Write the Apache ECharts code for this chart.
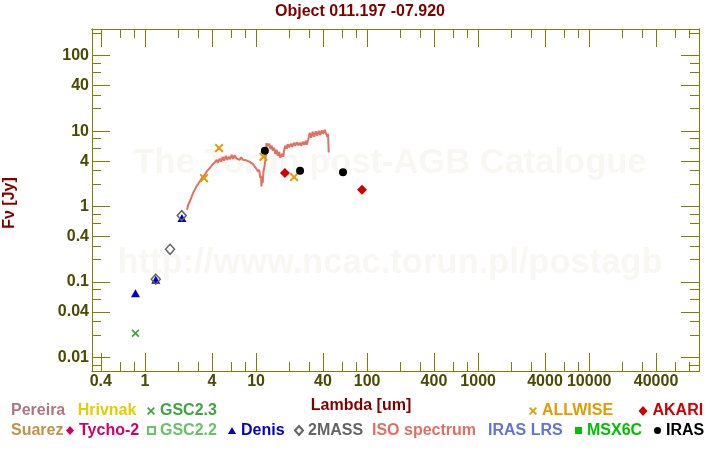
<!DOCTYPE html>
<html>
<head>
<meta charset="utf-8">
<script src="https://cdn.jsdelivr.net/npm/echarts@6/dist/echarts.min.js"></script>
<style>
html,body{margin:0;padding:0;background:#fff;}
#chart{width:720px;height:450px;}
</style>
</head>
<body>
<div id="chart"></div>
<script>
// ---------------- data ----------------
const chartTitle = 'Object 011.197 -07.920';
const xName = 'Lambda [um]';
const yName = 'F\u03bd [Jy]';

const xRange = [0.333, 97500];
const yRange = [0.00662, 226];
const xMajorTicks = [0.4, 1, 4, 10, 40, 100, 400, 1000, 4000, 10000, 40000];
const xMinorTicks = [0.6, 0.8, 2, 3, 6, 8, 20, 30, 60, 80, 200, 300, 600, 800,
  2000, 3000, 6000, 8000, 20000, 30000, 60000, 80000];
const yMajorTicks = [0.01, 0.04, 0.1, 0.4, 1, 4, 10, 40, 100];
const yMinorTicks = [0.008, 0.02, 0.03, 0.06, 0.08, 0.2, 0.3, 0.6, 0.8, 2, 3, 6, 8,
  20, 30, 60, 80, 200];

// photometry [lambda (um), flux (Jy)]
const gsc23 = [[0.82, 0.021]];
const denis = [[0.82, 0.071], [1.25, 0.107], [2.15, 0.705]];
const twoMass = [[1.25, 0.109], [1.68, 0.272], [2.14, 0.76]];
const allwise = [[3.40, 2.38], [4.64, 5.96], [11.65, 4.57], [22.0, 2.46]];
const akari = [[18.2, 2.78], [90, 1.67]];
const iras = [[12.0, 5.49], [24.9, 2.98], [60.7, 2.86]];
const pereira = [], hrivnak = [], suarez = [], tycho2 = [], gsc22 = [], irasLrs = [], msx6c = [];

// ISO spectrum [lambda (um), flux (Jy)]
const isoSpectrum = [
  [2.389,0.906],[2.449,1.055],[2.527,1.167],[2.607,1.306],[2.706,1.508],[2.803,1.668],
  [2.904,1.845],[3.014,2.004],[3.109,2.149],[3.274,2.407],[3.449,2.638],[3.633,2.981],
  [3.825,3.237],[4.030,3.579],[4.244,3.841],[4.424,4.171],[4.516,3.805],[4.708,4.300],
  [4.857,3.923],[5.010,4.571],[5.168,4.046],[5.331,4.713],[5.500,4.171],[5.674,4.571],
  [5.853,4.235],[6.037,4.860],[6.228,4.300],[6.425,4.786],[6.628,4.367],[6.837,4.571],
  [7.127,4.171],[7.352,4.501],[7.584,4.171],[7.905,4.433],[8.155,4.108],[8.412,4.300],
  [8.769,3.923],[9.046,4.108],[9.331,3.691],[9.625,3.805],[9.929,3.267],[10.24,3.472],
  [10.46,2.891],[10.68,3.073],[10.90,2.407],[11.08,2.559],[11.18,1.845],[11.32,2.264],
  [11.48,2.066],[11.65,2.891],[11.84,2.720],[11.97,3.579],[12.14,4.171],[12.29,5.326],
  [12.40,6.948],[12.74,6.397],[13.14,6.800],[13.41,5.836],[13.84,6.397],[14.13,5.490],
  [14.57,6.018],[14.88,5.010],[15.35,5.660],[15.67,4.713],[16.17,5.326],[16.51,4.433],
  [16.92,4.171],[17.20,5.010],[17.56,4.571],[17.93,5.660],[18.31,6.397],[18.89,5.836],
  [19.28,6.697],[19.89,6.111],[20.52,6.800],[21.17,6.205],[21.84,7.012],[22.53,6.397],
  [23.24,7.120],[23.97,6.495],[24.73,7.012],[25.51,6.397],[26.32,7.230],[27.15,6.596],
  [28.01,7.454],[28.59,6.596],[29.49,7.685],[30.43,9.517],[31.39,8.167],[32.38,9.811],
  [33.40,8.421],[34.45,9.962],[35.54,8.682],[36.66,10.12],[37.82,8.817],[39.02,10.27],
  [40.25,9.230],[41.52,10.43],[42.83,10.27],[43.73,8.421],[44.47,9.230],[45.12,5.213]
];

// ---------------- style ----------------
const FONT = '"Liberation Sans", Arial, Helvetica, sans-serif';
const OLIVE = '#808000';
const LABEL = '#4a4a00';
const DARKRED = '#800000';
const CROSS = 'path://M0,1.5L1.5,0L5,3.5L8.5,0L10,1.5L6.5,5L10,8.5L8.5,10L5,6.5L1.5,10L0,8.5L3.5,5Z';

const lg = v => Math.log10(v);
const fmt = v => String(Number(Math.pow(10, v).toPrecision(6)));

function frameAxis(range, position, values, length, withLabels, extra) {
  const ax = {
    type: 'value', position: position,
    min: lg(range[0]), max: lg(range[1]),
    axisLine: {show: true, onZero: false, lineStyle: {color: OLIVE, width: 1}},
    axisTick: {show: true, inside: true, length: length, customValues: values.map(lg),
      lineStyle: {color: OLIVE, width: 1}},
    axisLabel: withLabels ? {show: true, customValues: values.map(lg), formatter: fmt,
      color: LABEL, fontSize: 16, fontWeight: 'bold', fontFamily: FONT, margin: 3} : {show: false},
    splitLine: {show: false}, minorTick: {show: false}, splitArea: {show: false}
  };
  return Object.assign(ax, extra || {});
}

const dataAxisX = {type: 'log', min: xRange[0], max: xRange[1], show: false, splitLine: {show: false}};
const dataAxisY = {type: 'log', min: yRange[0], max: yRange[1], show: false, splitLine: {show: false}};

function leg(name, left, top, color, iw, ih, icon) {
  return {data: [icon ? {name: name, icon: icon} : name], left: left, top: top, padding: 0,
    itemWidth: iw, itemHeight: ih, selectedMode: false,
    textStyle: {color: color, fontSize: 16, fontWeight: 'bold', fontFamily: FONT}};
}

function scat(name, data, symbol, size, color, extraStyle) {
  return {name: name, type: 'scatter', data: data, xAxisIndex: 0, yAxisIndex: 0,
    symbol: symbol, symbolSize: size, animation: false, z: 3,
    itemStyle: Object.assign({color: color, opacity: 1}, extraStyle || {})};
}

const option = {
  animation: false,
  backgroundColor: '#ffffff',
  title: {text: chartTitle, left: 'center', top: 4, padding: 0,
    textStyle: {color: DARKRED, fontSize: 16, fontWeight: 'bold', fontFamily: FONT}},
  grid: {left: 92, right: 21, top: 29, bottom: 79, containLabel: false, outerBoundsMode: 'none'},
  xAxis: [
    dataAxisX,
    frameAxis(xRange, 'bottom', xMajorTicks, 18, true, {
      name: xName, nameLocation: 'middle', nameGap: 27,
      nameTextStyle: {color: DARKRED, fontSize: 16, fontWeight: 'bold', fontFamily: FONT,
        padding: [0, 69, 0, 0]}}),
    frameAxis(xRange, 'bottom', xMinorTicks, 9, false),
    frameAxis(xRange, 'top', xMajorTicks, 18, false),
    frameAxis(xRange, 'top', xMinorTicks, 9, false)
  ],
  yAxis: [
    dataAxisY,
    frameAxis(yRange, 'left', yMajorTicks, 18, true, {
      name: yName, nameLocation: 'middle', nameGap: 74, nameRotate: 90,
      nameTextStyle: {color: DARKRED, fontSize: 16, fontWeight: 'bold', fontFamily: FONT,
        padding: [0, 6, 0, 0]}}),
    frameAxis(yRange, 'left', yMinorTicks, 9, false),
    frameAxis(yRange, 'right', yMajorTicks, 18, false),
    frameAxis(yRange, 'right', yMinorTicks, 9, false)
  ],
  graphic: [
    {type: 'text', silent: true, z: -5,
      style: {text: 'The Toru\u0144 post-AGB Catalogue', x: 390, y: 163, fill: '#f9f7f3',
        font: 'bold 34.5px ' + FONT, textAlign: 'center', textVerticalAlign: 'middle'}},
    {type: 'text', silent: true, z: -5,
      style: {text: 'http://www.ncac.torun.pl/postagb', x: 390, y: 263, fill: '#f9f7f3',
        font: 'bold 34.5px ' + FONT, textAlign: 'center', textVerticalAlign: 'middle'}}
  ],
  legend: [
    leg('Pereira', 6, 403, '#b07585', 0, 0, 'none'),
    leg('Hrivnak', 72.7, 403, '#e6cc00', 0, 0, 'none'),
    leg('GSC2.3', 147, 403, '#3fa53f', 8, 8),
    leg('ALLWISE', 529, 403, '#e39b00', 8, 8),
    leg('AKARI', 638.5, 403, '#d00000', 9, 10),
    leg('Suarez', 6, 422.5, '#c39245', 0, 0, 'none'),
    leg('Tycho-2', 66, 422.5, '#d0006c', 8, 9),
    leg('GSC2.2', 147, 422.5, '#66c466', 7, 7),
    leg('Denis', 228, 422.5, '#0000c8', 8, 7),
    leg('2MASS', 294, 422.5, '#646464', 8, 9),
    leg('ISO spectrum', 367, 422.5, '#e07060', 0, 0, 'none'),
    leg('IRAS LRS', 483, 422.5, '#6473d6', 0, 0, 'none'),
    leg('MSX6C', 575, 422.5, '#00c000', 7, 7),
    leg('IRAS', 654, 422.5, '#000000', 7, 7)
  ],
  series: [
    {name: 'ISO spectrum', type: 'line', data: isoSpectrum, xAxisIndex: 0, yAxisIndex: 0,
      symbol: 'none', showSymbol: false, animation: false, z: 2,
      lineStyle: {color: '#e07060', width: 2}, itemStyle: {color: '#e07060'}},
    scat('Pereira', pereira, 'circle', 7, '#b07585'),
    scat('Hrivnak', hrivnak, 'circle', 7, '#e6cc00'),
    scat('Suarez', suarez, 'circle', 7, '#c39245'),
    scat('Tycho-2', tycho2, 'diamond', 8, '#d0006c'),
    scat('GSC2.2', gsc22, 'rect', 6, 'rgba(0,0,0,0)', {borderColor: '#66c466', borderWidth: 1.5}),
    scat('IRAS LRS', irasLrs, 'circle', 7, '#6473d6'),
    scat('MSX6C', msx6c, 'rect', 7, '#00c000'),
    scat('GSC2.3', gsc23, CROSS, 8, '#3fa53f'),
    scat('Denis', denis, 'triangle', [9, 8], '#0000c8'),
    scat('2MASS', twoMass, 'diamond', [9, 10], 'rgba(0,0,0,0)', {borderColor: '#646464', borderWidth: 1.5}),
    scat('ALLWISE', allwise, CROSS, 9, '#e39b00'),
    scat('AKARI', akari, 'diamond', [10, 10], '#d00000'),
    scat('IRAS', iras, 'circle', 8, '#000000')
  ]
};

const chart = echarts.init(document.getElementById('chart'), null, {renderer: 'canvas'});
chart.setOption(option);
</script>
</body>
</html>
